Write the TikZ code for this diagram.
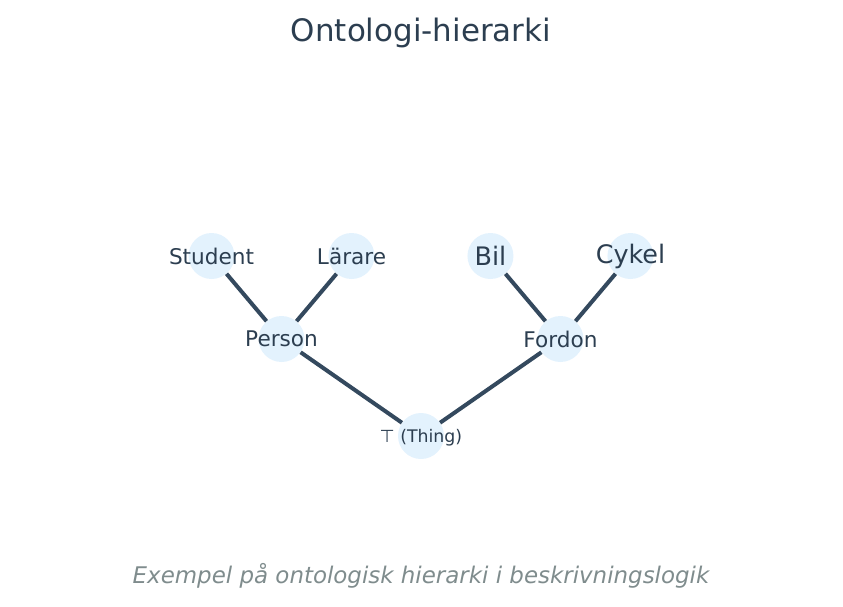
\documentclass[tikz,border=0pt]{standalone}
\usepackage{fontspec}
\setmainfont{DejaVu Sans}
\usetikzlibrary{positioning}
\definecolor{nodefill}{HTML}{E3F2FD}
\definecolor{edgecol}{HTML}{34495E}
\definecolor{textcol}{HTML}{2C3E50}
\definecolor{captioncol}{HTML}{7F8C8D}

\begin{document}
\begin{tikzpicture}[x=0.75pt,y=-0.75pt,on grid,
  concept/.style={circle,fill=nodefill,minimum size=34.5pt,inner sep=0pt},
  word/.style={text=textcol,font=\fontsize{16.2}{19}\selectfont},
  bigword/.style={text=textcol,font=\fontsize{19.1}{23}\selectfont},
  smallword/.style={text=textcol,font=\fontsize{13}{16}\selectfont},
  link/.style={draw=edgecol,line width=3pt}]
  \useasboundingbox (0,0) rectangle (843,607);

  \node[text=textcol,font=\fontsize{23.2}{28}\selectfont] (title) at (421,33) {Ontologi-hierarki};

  \node[concept,label={[smallword,yshift=-1pt]center:⊤ (Thing)}] (thing) at (421,436) {};
  \node[concept,label={[word]center:Person}]  (person)  [above left=72.75pt and 104.6pt of thing] {};
  \node[concept,label={[word]center:Fordon}]  (fordon)  [above right=72.75pt and 104.6pt of thing] {};
  \node[concept,label={[word]center:Student}] (student) [above left=62.25pt and 52.5pt of person] {};
  \node[concept,label={[word]center:Lärare}]  (larare)  [above right=62.25pt and 52.5pt of person] {};
  \node[concept,label={[bigword]center:Bil}]   (bil)   [above left=62.25pt and 52.5pt of fordon] {};
  \node[concept,label={[bigword]center:Cykel}] (cykel) [above right=62.25pt and 52.5pt of fordon] {};

  \path[link] (person) edge (thing)
              (fordon) edge (thing)
              (student) edge (person)
              (larare) edge (person)
              (bil) edge (fordon)
              (cykel) edge (fordon);

  \node[text=captioncol,font=\fontsize{17.2}{20}\selectfont\itshape] (caption) at (421,576)
    {Exempel på ontologisk hierarki i beskrivningslogik};
\end{tikzpicture}
\end{document}
